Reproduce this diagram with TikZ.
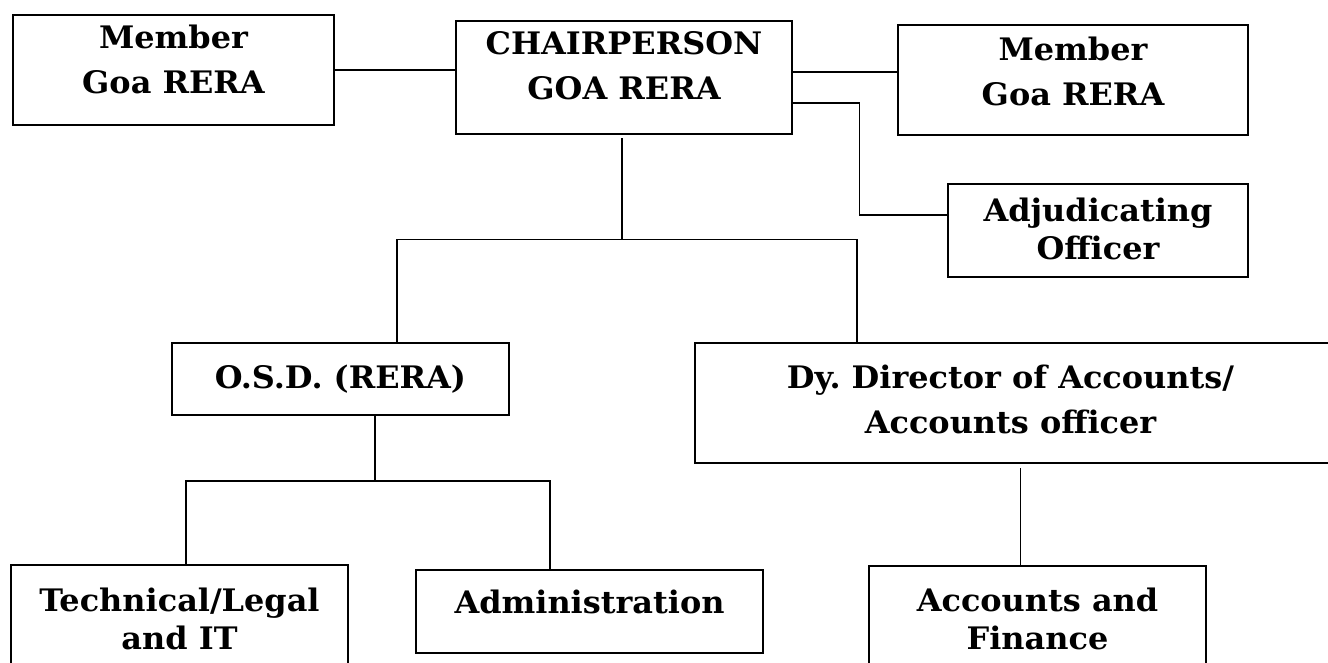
\documentclass[tikz,border=0pt]{standalone}
\usepackage{fontspec}
\setmainfont{DejaVu Serif}[FakeStretch=1.03]
\usetikzlibrary{positioning}
\frenchspacing
\tikzset{
  unit/.style={draw,line width=2pt,inner sep=0pt},
  heavy/.style={line width=2.8pt},
  lbl/.style={font=\bfseries\fontsize{31}{45}\selectfont,align=center,inner sep=0pt},
  tight/.style={font=\bfseries\fontsize{31}{38}\selectfont},
  link/.style={line width=1.6pt}
}

\begin{document}
\begin{tikzpicture}[x=1pt,y=-1pt]
  \useasboundingbox (0,0) rectangle (1328,663);
  % top row
  \node[unit,heavy,minimum width=321,minimum height=110] (memL) at (173.5,70) {};
  \node[unit,heavy,minimum width=336,minimum height=113] (chair) at (624,77.5) {};
  \node[unit,heavy,minimum width=350,minimum height=110] (memR) at (1073,80) {};
  \node[unit,heavy,minimum width=300,minimum height=93] (adj) at (1098,230.5) {};
  \node[lbl] (memLTxt) at ([yshift=11pt]memL.center) {Member\\Goa RERA};
  \node[lbl] (chairTxt) at ([yshift=12pt]chair.center) {CHAIRPERSON\\GOA RERA};
  \node[lbl] (memRTxt) at ([yshift=9pt]memR.center) {Member\\Goa RERA};
  \node[lbl,tight] (adjTxt) at ([yshift=2pt]adj.center) {Adjudicating\\Officer};
  % middle row
  \node[unit,minimum width=337,minimum height=72] (osd) at (340.5,379) {};
  \node[unit,minimum width=637,minimum height=120] (dy) at (1013.5,403) {};
  \node[lbl] (osdTxt) at (osd.center) {O.S.D. (RERA)};
  \node[lbl] (dyTxt) at ([xshift=-3pt,yshift=4pt]dy.center) {Dy. Director of Accounts/\\Accounts officer};
  % bottom row
  \node[unit,minimum width=337,minimum height=125] (tech) at (179.5,627.5) {};
  \node[unit,minimum width=347,minimum height=83] (admin) at (589.5,611.5) {};
  \node[unit,heavy,minimum width=337,minimum height=124] (fin) at (1037.5,628) {};
  \node[lbl,tight] (techTxt) at ([yshift=9pt]tech.center) {Technical/Legal\\and IT};
  \node[lbl] (adminTxt) at ([yshift=10pt]admin.center) {Administration};
  \node[lbl,tight] (finTxt) at ([yshift=9pt]fin.center) {Accounts and\\Finance};

  % links
  \draw[link] (memL.east) -- (memL.east -| chair.west);
  \draw[link] ([yshift=-2pt]chair.east |- memL.east) -- ([yshift=-2pt]memR.west |- memL.east);
  \draw[link] ([yshift=-25.5pt]chair.east) -- ++(66,0) |- ([yshift=15.5pt]adj.west);
  \draw[link] ([xshift=-2pt,yshift=-3pt]chair.south) -- ++(0,101) coordinate (split);
  \draw[link] ([xshift=56.5pt]osd.north) |- (split) -| ([xshift=-156.5pt]dy.north);
  \draw[link] ([xshift=34.5pt]osd.south) -- ++(0,65) coordinate (split2);
  \draw[link] ([xshift=6.5pt]tech.north) |- (split2) -| ([xshift=-39.5pt]admin.north);
  \draw[link] ([xshift=7pt,yshift=-4pt]dy.south) coordinate (d1) -- (d1 |- fin.north);
\end{tikzpicture}
\end{document}
